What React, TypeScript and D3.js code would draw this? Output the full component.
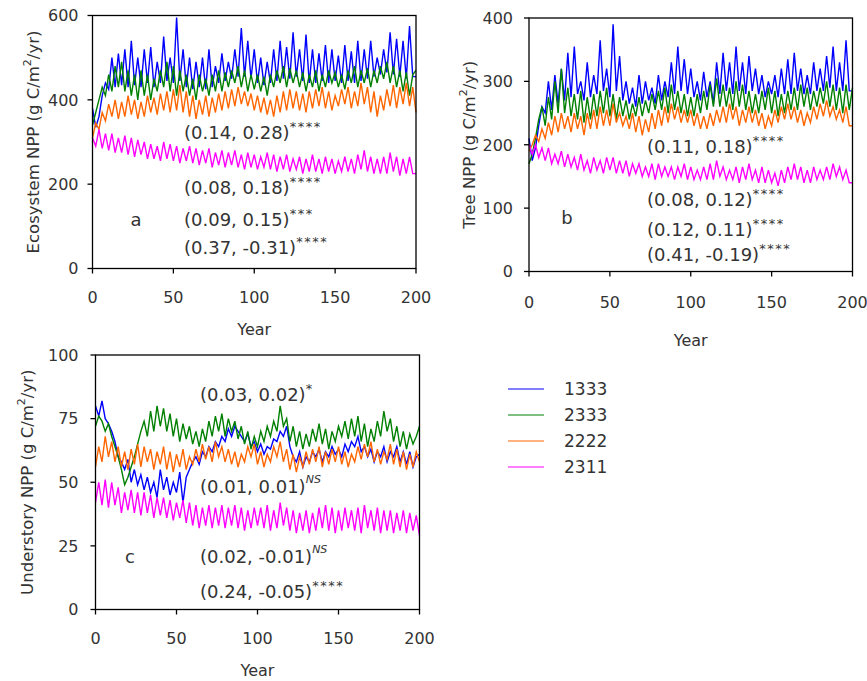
import * as d3 from 'd3'
import React from 'react'

// years are sampled every 2 years, 0..200
const YEARS = d3.range(0, 201, 2)
const X_TICKS = [0, 50, 100, 150, 200]
const SERIES = ['1333', '2333', '2222', '2311']
const COLORS = ['#0000ff', '#008000', '#ff6600', '#ff00ff']

// panel a: ecosystem NPP
const ecoBlue = [
  380, 335, 360, 410, 440, 425, 500, 430, 510, 435,
  520, 430, 540, 435, 500, 430, 520, 440, 525, 430,
  490, 440, 550, 445, 500, 440, 595, 445, 520, 430,
  500, 425, 490, 430, 500, 425, 520, 430, 480, 440,
  510, 445, 490, 450, 520, 455, 570, 455, 540, 450,
  520, 440, 500, 435, 490, 440, 520, 445, 540, 450,
  525, 450, 560, 455, 520, 445, 555, 440, 520, 440,
  510, 445, 530, 440, 520, 445, 505, 440, 530, 445,
  515, 440, 540, 445, 520, 450, 540, 455, 500, 460,
  520, 465, 560, 460, 545, 455, 540, 450, 575, 455,
  455,
]
const ecoGreen = [
  340, 370, 400, 430, 410, 460, 420, 480, 430, 490,
  420, 470, 410, 460, 400, 470, 410, 460, 400, 450,
  420, 470, 430, 490, 420, 480, 410, 470, 420, 460,
  410, 450, 400, 460, 420, 450, 410, 460, 420, 470,
  420, 465, 430, 470, 440, 480, 430, 470, 420, 460,
  425, 460, 420, 455, 410, 460, 430, 470, 440, 480,
  430, 475, 440, 470, 430, 465, 420, 460, 430, 470,
  420, 460, 430, 470, 440, 465, 430, 460, 425, 470,
  440, 480, 430, 470, 440, 475, 430, 470, 440, 480,
  450, 490, 440, 480, 430, 470, 420, 465, 410, 460,
  470,
]
const ecoOrange = [
  310, 345, 330, 370, 350, 390, 360, 400, 355, 395,
  360, 410, 365, 400, 355, 395, 360, 410, 370, 405,
  365, 415, 375, 420, 370, 425, 375, 435, 370, 420,
  360, 410, 355, 400, 365, 410, 360, 405, 370, 415,
  375, 420, 380, 425, 385, 430, 390, 420, 385, 415,
  375, 410, 370, 405, 365, 400, 360, 410, 370, 420,
  375, 425, 380, 420, 375, 415, 370, 420, 380, 425,
  385, 430, 380, 420, 375, 410, 385, 425, 390, 430,
  380, 420, 385, 440, 390, 430, 370, 420, 360, 410,
  375, 425, 385, 435, 380, 430, 390, 440, 385, 430,
  370,
]
const ecoMagenta = [
  310, 290, 330, 285, 320, 280, 320, 275, 310, 275,
  315, 270, 310, 265, 305, 270, 300, 260, 295, 260,
  290, 255, 300, 260, 295, 255, 290, 250, 285, 255,
  290, 250, 285, 245, 280, 250, 285, 240, 275, 245,
  280, 240, 275, 245, 280, 240, 270, 235, 275, 240,
  270, 235, 265, 240, 275, 235, 270, 230, 265, 235,
  270, 230, 260, 235, 265, 225, 260, 230, 270, 230,
  260, 225, 265, 230, 260, 225, 255, 230, 265, 230,
  260, 225, 270, 235, 280, 230, 265, 225, 260, 225,
  265, 225, 275, 230, 265, 220, 260, 225, 265, 225,
  225,
]

// panel b: tree NPP
const treeBlue = [
  210, 175, 195, 230, 260, 250, 300, 255, 310, 265,
  320, 270, 345, 275, 355, 280, 300, 270, 330, 275,
  310, 280, 365, 285, 320, 275, 390, 285, 340, 270,
  300, 265, 290, 260, 310, 265, 300, 270, 290, 265,
  310, 270, 300, 275, 330, 280, 355, 285, 335, 280,
  320, 275, 300, 270, 315, 275, 300, 265, 330, 280,
  345, 285, 330, 280, 355, 285, 330, 280, 340, 285,
  320, 280, 310, 275, 300, 280, 310, 275, 320, 280,
  335, 280, 345, 285, 320, 280, 310, 280, 330, 285,
  320, 285, 340, 290, 355, 285, 330, 285, 365, 285,
  285,
]
const treeGreen = [
  170, 185, 210, 240, 260, 230, 275, 240, 300, 250,
  320, 250, 290, 245, 280, 240, 285, 235, 275, 240,
  280, 245, 285, 250, 290, 245, 280, 240, 275, 245,
  270, 240, 265, 245, 275, 245, 270, 250, 280, 255,
  285, 255, 290, 250, 295, 255, 285, 250, 280, 245,
  275, 245, 280, 250, 285, 255, 295, 260, 305, 260,
  295, 260, 290, 255, 300, 260, 295, 255, 285, 250,
  280, 250, 285, 255, 290, 250, 285, 245, 280, 250,
  285, 255, 290, 255, 295, 260, 290, 255, 285, 260,
  290, 265, 300, 260, 295, 255, 290, 250, 295, 255,
  290,
]
const treeOrange = [
  190, 200, 215, 205, 225, 210, 235, 215, 245, 220,
  250, 225, 245, 220, 250, 225, 245, 215, 250, 225,
  255, 225, 260, 230, 255, 230, 265, 235, 250, 230,
  245, 225, 250, 220, 245, 215, 240, 220, 250, 225,
  255, 230, 260, 235, 265, 240, 260, 235, 255, 235,
  255, 230, 250, 225, 245, 225, 250, 230, 255, 235,
  260, 235, 265, 240, 260, 230, 255, 235, 260, 235,
  255, 230, 250, 225, 245, 230, 255, 235, 260, 240,
  265, 240, 260, 235, 255, 230, 250, 235, 260, 240,
  265, 245, 270, 245, 260, 240, 255, 235, 260, 230,
  230,
]
const treeMagenta = [
  200, 185, 200, 180, 195, 175, 195, 170, 185, 170,
  190, 165, 185, 165, 180, 160, 185, 160, 175, 155,
  180, 160, 175, 155, 180, 160, 180, 155, 175, 155,
  175, 150, 170, 155, 170, 150, 165, 150, 170, 145,
  170, 150, 165, 150, 165, 145, 165, 150, 170, 145,
  165, 145, 160, 145, 165, 145, 170, 145, 175, 150,
  165, 145, 160, 145, 165, 140, 165, 145, 170, 145,
  160, 140, 165, 140, 160, 140, 155, 135, 160, 140,
  165, 145, 170, 145, 165, 140, 160, 140, 165, 145,
  160, 145, 165, 145, 170, 150, 165, 145, 160, 140,
  140,
]

// panel c: understory NPP
const underBlue = [
  80, 76, 82, 75, 73, 70, 66, 60, 58, 55,
  59, 50, 55, 49, 53, 47, 52, 46, 50, 44,
  55, 47, 52, 45, 50, 46, 54, 42, 52, 55,
  58, 60, 57, 62, 60, 64, 62, 66, 64, 68,
  66, 71, 68, 72, 70, 68, 66, 69, 64, 66,
  62, 65, 61, 64, 63, 67, 66, 70, 68, 72,
  64, 60, 58, 62, 56, 60, 58, 62, 60, 63,
  58, 62, 60, 64, 61, 63, 60, 65, 62, 66,
  64, 68, 62, 64, 60, 63, 58, 62, 60, 64,
  58, 62, 60, 64, 58, 62, 57, 62, 56, 60,
  61,
]
const underGreen = [
  72, 76, 74, 70, 73, 68, 64, 60, 55, 49,
  52, 56, 60, 65, 70, 74, 68, 78, 70, 80,
  72, 79, 70, 77, 68, 75, 66, 73, 67, 72,
  65, 70, 64, 71, 66, 74, 68, 76, 70, 77,
  68, 75, 70, 74, 67, 72, 65, 70, 63, 68,
  64, 70, 66, 72, 68, 74, 70, 80, 72, 75,
  66, 72, 64, 70, 63, 69, 64, 71, 66, 73,
  65, 71, 63, 70, 66, 72, 68, 74, 67, 75,
  68, 76, 66, 73, 64, 71, 66, 74, 68, 78,
  70, 75, 66, 72, 64, 70, 63, 69, 65, 68,
  72,
]
const underOrange = [
  56, 64, 58, 68, 60, 66, 58, 64, 56, 62,
  55, 63, 57, 65, 56, 64, 58, 63, 55, 62,
  57, 64, 55, 62, 54, 61, 56, 63, 55, 60,
  57, 63, 58, 65, 59, 64, 58, 66, 60, 64,
  58, 63, 57, 62, 56, 61, 58, 64, 60, 65,
  57, 62, 56, 61, 58, 64, 60, 66, 58, 63,
  55, 61, 54, 60, 56, 62, 57, 63, 58, 64,
  56, 62, 57, 63, 58, 64, 57, 62, 56, 61,
  58, 64, 59, 65, 60, 66, 58, 63, 57, 62,
  59, 65, 57, 63, 56, 62, 55, 61, 56, 62,
  58,
]
const underMagenta = [
  42, 50, 41, 51, 40, 50, 41, 48, 38, 46,
  39, 47, 38, 46, 37, 46, 38, 45, 36, 44,
  37, 44, 36, 43, 35, 42, 36, 43, 34, 42,
  33, 41, 32, 40, 33, 41, 32, 40, 33, 41,
  32, 40, 33, 41, 32, 40, 31, 39, 32, 40,
  33, 40, 32, 41, 31, 39, 32, 42, 33, 40,
  31, 39, 30, 38, 31, 39, 30, 38, 31, 40,
  32, 41, 31, 40, 30, 39, 31, 40, 32, 39,
  31, 40, 30, 41, 32, 39, 31, 40, 30, 39,
  31, 39, 30, 38, 31, 39, 30, 38, 31, 37,
  29,
]

const ecoTicks = [0, 200, 400, 600]
const treeTicks = [0, 100, 200, 300, 400]
const underTicks = [0, 25, 50, 75, 100]

const ecoNotes = [
  ['(0.14, 0.28)', '****'],
  ['(0.08, 0.18)', '****'],
  ['(0.09, 0.15)', '***'],
  ['(0.37, -0.31)', '****'],
]
const treeNotes = [
  ['(0.11, 0.18)', '****'],
  ['(0.08, 0.12)', '****'],
  ['(0.12, 0.11)', '****'],
  ['(0.41, -0.19)', '****'],
]
const underNotes = [
  ['(0.03, 0.02)', '*'],
  ['(0.01, 0.01)', 'NS'],
  ['(0.02, -0.01)', 'NS'],
  ['(0.24, -0.05)', '****'],
]

const FONT = 'DejaVu Sans, Verdana, sans-serif'
const INK = '#333'

type PanelProps = {
  box: { x0: number; x1: number; y0: number; y1: number }
  yMax: number
  yTicks: number[]
  series: number[][]
  title: string
  tickGap: number
  xLabelDy: number
  yearDy: number
  titleX: number
  letter: string
  letterPos: [number, number]
  notes: string[][]
  noteX: number
  noteY: number[]
}

function Panel(p: PanelProps) {
  const x = d3.scaleLinear().domain([0, 200]).range([p.box.x0, p.box.x1])
  const y = d3.scaleLinear().domain([0, p.yMax]).range([p.box.y1, p.box.y0])
  const line = d3
    .line<number>()
    .x((_, i) => x(YEARS[i]))
    .y((d) => y(d))
  const cy = (p.box.y0 + p.box.y1) / 2
  const cx = (p.box.x0 + p.box.x1) / 2

  return (
    <g fontFamily={FONT} fill={INK}>
      {p.series.map((s, i) => (
        <path key={i} d={line(s) || ''} fill="none" stroke={COLORS[i]} strokeWidth={1.4} />
      ))}
      <rect
        x={p.box.x0}
        y={p.box.y0}
        width={p.box.x1 - p.box.x0}
        height={p.box.y1 - p.box.y0}
        fill="none"
        stroke="#000"
        strokeWidth={1.3}
      />
      {p.yTicks.map((t) => (
        <g key={'y' + t}>
          <line x1={p.box.x0 - 5} x2={p.box.x0} y1={y(t)} y2={y(t)} stroke="#000" strokeWidth={1.3} />
          <text x={p.box.x0 - p.tickGap} y={y(t)} dy="0.36em" textAnchor="end" fontSize={16}>
            {t}
          </text>
        </g>
      ))}
      {X_TICKS.map((t) => (
        <g key={'x' + t}>
          <line x1={x(t)} x2={x(t)} y1={p.box.y1} y2={p.box.y1 + 5} stroke="#000" strokeWidth={1.3} />
          <text x={x(t)} y={p.box.y1 + p.xLabelDy} dy="0.36em" textAnchor="middle" fontSize={16}>
            {t}
          </text>
        </g>
      ))}
      <text x={cx} y={p.box.y1 + p.yearDy} dy="0.36em" textAnchor="middle" fontSize={16}>
        Year
      </text>
      <text
        transform={`translate(${p.titleX},${cy}) rotate(-90)`}
        textAnchor="middle"
        dy="0.36em"
        fontSize={16.5}
      >
        {p.title}
        <tspan fontSize={11} dy={-8}>
          2
        </tspan>
        <tspan dy={8}>/yr)</tspan>
      </text>
      <text x={p.letterPos[0]} y={p.letterPos[1]} dy="0.36em" textAnchor="middle" fontSize={18}>
        {p.letter}
      </text>
      {p.notes.map((n, i) => (
        <text key={i} x={p.noteX} y={p.noteY[i]} dy="0.36em" fontSize={18}>
          {n[0]}
          {n[1] === 'NS' ? (
            <tspan fontSize={11} dy={-10} fontStyle="italic">
              {n[1]}
            </tspan>
          ) : (
            <tspan fontSize={13} dy={-8.5} letterSpacing={1.5}>
              {n[1]}
            </tspan>
          )}
        </text>
      ))}
    </g>
  )
}

export default function App() {
  const legendY = d3.scalePoint<string>().domain(SERIES).range([389, 467])

  return (
    <svg
      width={867}
      height={681}
      style={{ position: 'absolute', left: 0, top: 0, background: '#fff' }}
    >
      <Panel
        box={{ x0: 92.5, x1: 416, y0: 15.5, y1: 268.5 }}
        yMax={600}
        yTicks={ecoTicks}
        series={[ecoBlue, ecoGreen, ecoOrange, ecoMagenta]}
        title="Ecosystem NPP (g C/m"
        tickGap={14}
        xLabelDy={29}
        yearDy={61}
        titleX={33}
        letter="a"
        letterPos={[136, 220]}
        notes={ecoNotes}
        noteX={184}
        noteY={[133, 188, 220, 248]}
      />
      <Panel
        box={{ x0: 529, x1: 852.5, y0: 18, y1: 271.5 }}
        yMax={400}
        yTicks={treeTicks}
        series={[treeBlue, treeGreen, treeOrange, treeMagenta]}
        title="Tree NPP  (g C/m"
        tickGap={16}
        xLabelDy={30.5}
        yearDy={68.5}
        titleX={469}
        letter="b"
        letterPos={[567, 218]}
        notes={treeNotes}
        noteX={647}
        noteY={[147, 200, 230, 255]}
      />
      <Panel
        box={{ x0: 95.5, x1: 419.5, y0: 355, y1: 609.5 }}
        yMax={100}
        yTicks={underTicks}
        series={[underBlue, underGreen, underOrange, underMagenta]}
        title="Understory NPP (g C/m"
        tickGap={17}
        xLabelDy={28.5}
        yearDy={60.5}
        titleX={27}
        letter="c"
        letterPos={[130, 557]}
        notes={underNotes}
        noteX={200}
        noteY={[395, 487, 557, 592]}
      />
      <g fontFamily={FONT} fill={INK}>
        {SERIES.map((s, i) => (
          <g key={s}>
            <line x1={508} x2={544} y1={legendY(s)} y2={legendY(s)} stroke={COLORS[i]} strokeWidth={1.2} />
            <text x={564} y={legendY(s)} dy="0.36em" fontSize={17}>
              {s}
            </text>
          </g>
        ))}
      </g>
    </svg>
  )
}
